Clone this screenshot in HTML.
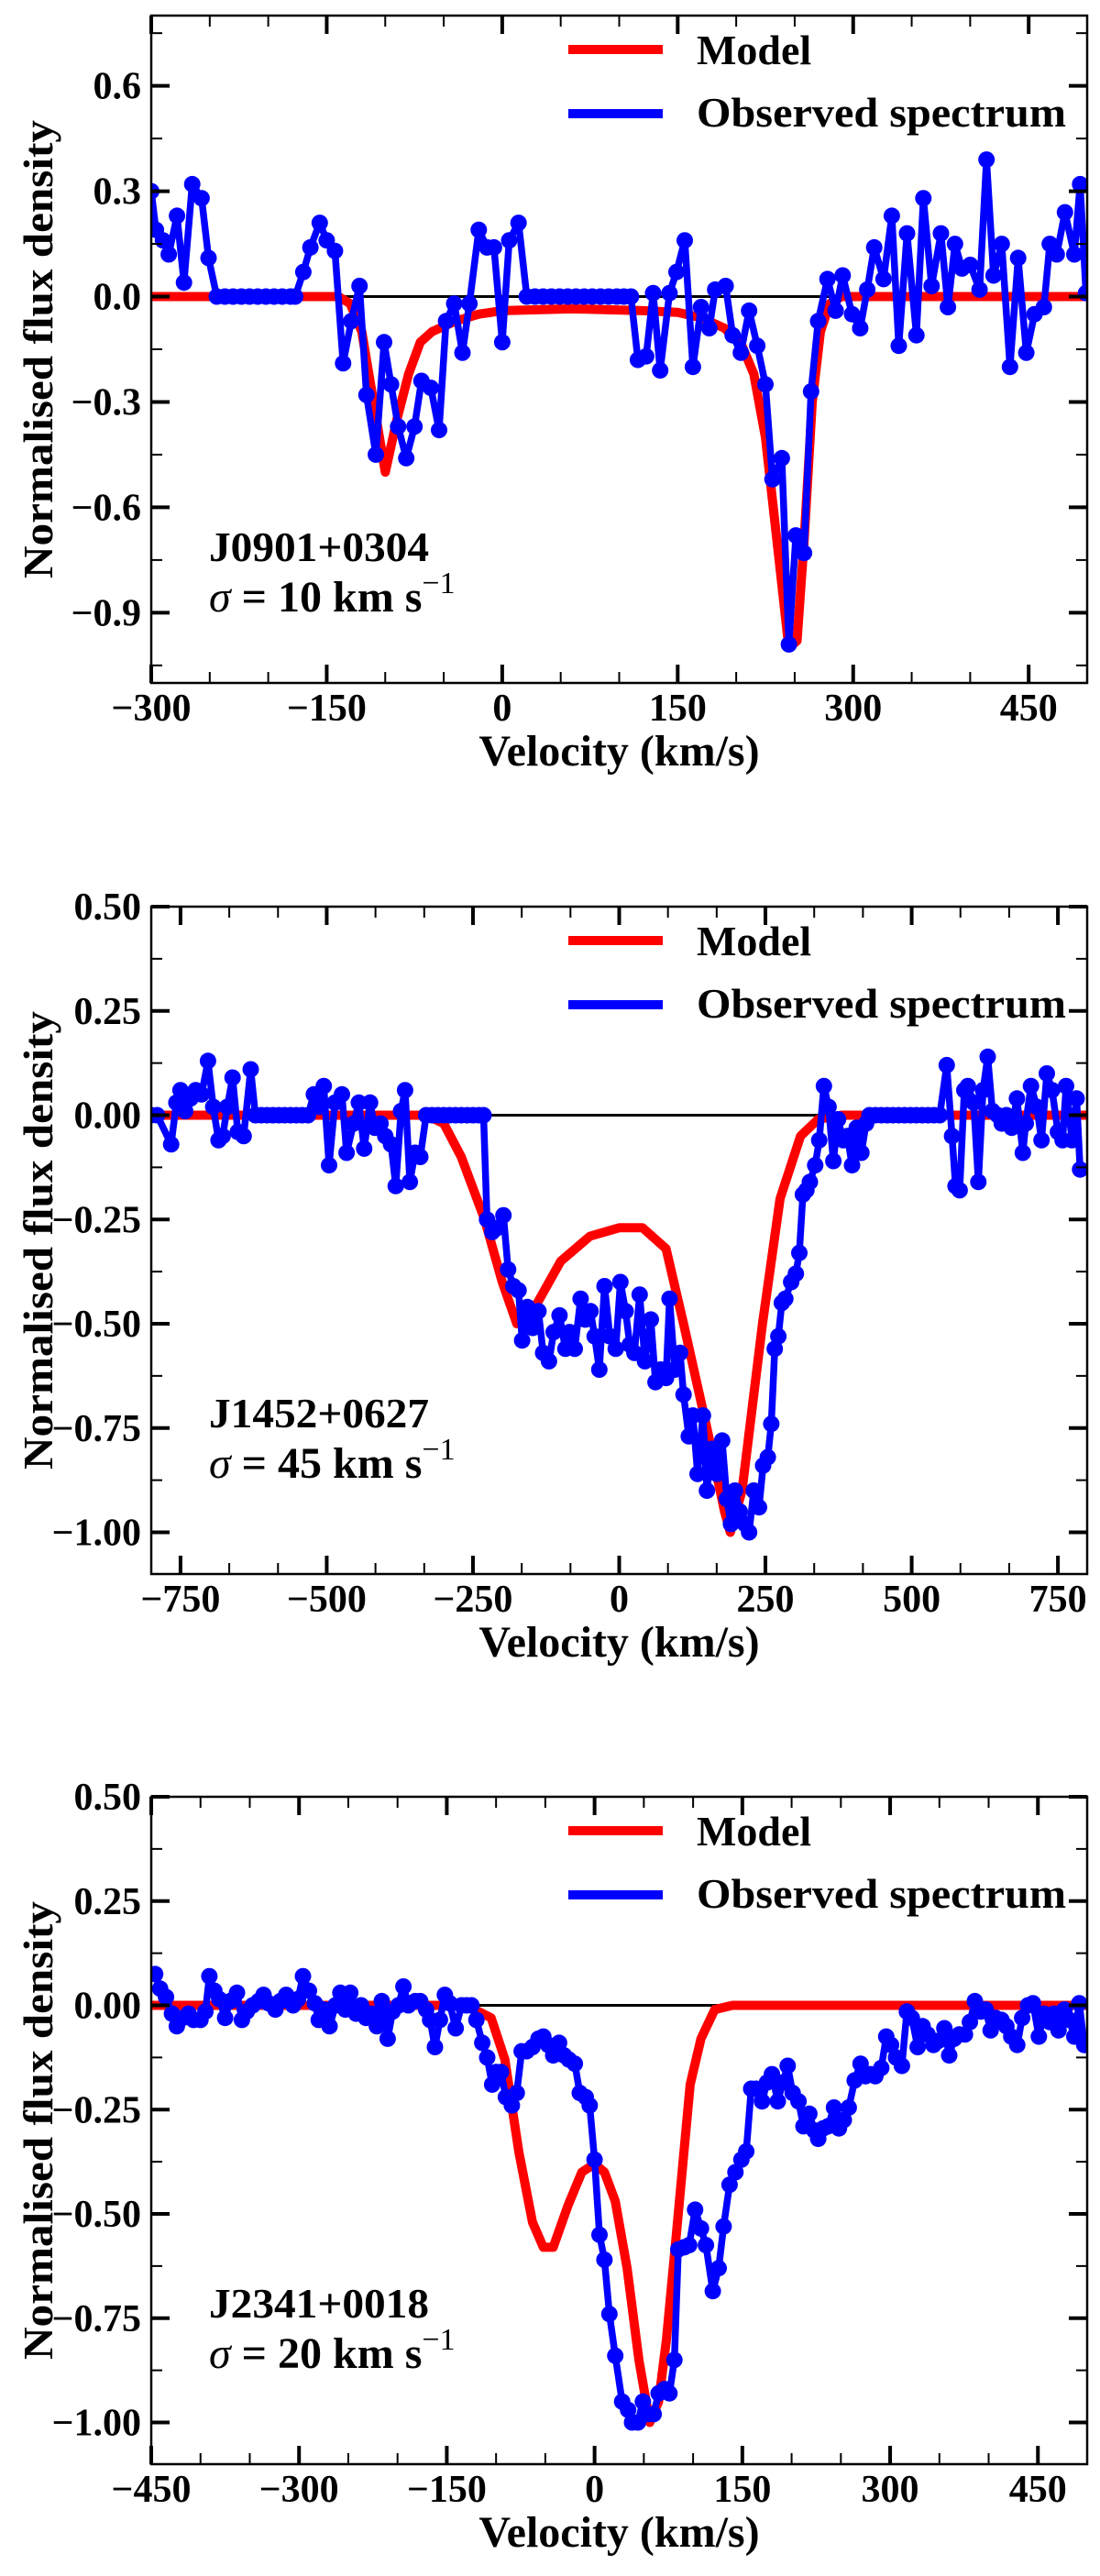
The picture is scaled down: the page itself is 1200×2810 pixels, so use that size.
<!DOCTYPE html>
<html><head><meta charset="utf-8">
<style>
html,body{margin:0;padding:0;background:#fff;}
svg{display:block;}
text{font-family:"Liberation Serif","Times New Roman",serif;font-weight:bold;fill:#000;}
</style></head>
<body>
<svg id="fig" width="1200" height="2810" viewBox="0 0 1200 2810" xmlns="http://www.w3.org/2000/svg"></svg>
<script>
// ---------- Panel 1: J0901+0304 ----------
const p1ObsVel = [-300,-296,-290,-285,-278,-272,-265,-257,-251,-244,-237,-230,-223,-216,-209,-202,-195,-188,-181,-177,-170,-164,-156,-150,-143,-136,-129,-122,-116,-108,-101,-95,-89,-82,-75,-69,-61,-54,-48,-41,-34,-28,-20,-13,-7,0,6,14,21,28,35,42,49,56,63,70,77,84,91,98,104,110,116,123,129,135,143,149,156,163,170,177,182,191,197,204,211,218,225,231,239,245,251,258,264,270,278,285,291,299,306,312,318,326,333,339,346,354,360,367,375,381,387,393,400,408,414,420,427,434,441,448,455,463,468,474,481,489,494,499];
const p1ObsFlux = [0.30,0.19,0.16,0.12,0.23,0.04,0.32,0.28,0.11,0,0,0,0,0,0,0,0,0,0,0,0.07,0.14,0.21,0.16,0.13,-0.19,-0.07,0.03,-0.28,-0.45,-0.13,-0.25,-0.37,-0.46,-0.37,-0.24,-0.26,-0.38,-0.07,-0.02,-0.16,-0.02,0.19,0.14,0.14,-0.13,0.16,0.21,0,0,0,0,0,0,0,0,0,0,0,0,0,0,-0.18,-0.17,0.01,-0.21,0.01,0.07,0.16,-0.20,-0.03,-0.09,0.02,0.03,-0.11,-0.16,-0.04,-0.14,-0.25,-0.52,-0.46,-0.99,-0.68,-0.73,-0.27,-0.07,0.05,-0.04,0.06,-0.05,-0.09,0.02,0.14,0.05,0.23,-0.14,0.18,-0.11,0.28,0.03,0.18,-0.03,0.15,0.08,0.09,0.02,0.39,0.06,0.15,-0.20,0.11,-0.16,-0.05,-0.03,0.15,0.12,0.24,0.12,0.32,0.01];
const p1ModVel = [-300,-140,-130,-120,-110,-100,-90,-80,-70,-60,-40,-20,0,60,120,150,170,190,205,215,225,235,245,252,258,265,272,280,290,500];
const p1ModFlux = [0,0,-0.02,-0.1,-0.3,-0.5,-0.35,-0.22,-0.13,-0.1,-0.07,-0.05,-0.04,-0.035,-0.04,-0.045,-0.06,-0.09,-0.14,-0.22,-0.4,-0.7,-1.0,-0.98,-0.7,-0.3,-0.1,-0.02,0,0];
const p1XTicks = [-300,-150,0,150,300,450];
const p1XLabels = ["\u2212300","\u2212150","0","150","300","450"];
const p1YTicks = [0.6,0.3,0,-0.3,-0.6,-0.9];
const p1YLabels = ["0.6","0.3","0.0","\u22120.3","\u22120.6","\u22120.9"];

// ---------- Panel 2: J1452+0627 ----------
const p2ObsVel = [-800,-790,-766,-757,-750,-742,-733,-724,-714,-703,-694,-685,-678,-670,-661,-652,-642,-630,-622,-612,-602,-592,-582,-572,-562,-552,-542,-532,-522,-514,-505,-496,-486,-474,-466,-454,-445,-436,-426,-418,-408,-400,-390,-382,-373,-366,-358,-349,-340,-330,-320,-310,-300,-290,-280,-270,-260,-250,-240,-232,-226,-217,-208,-198,-190,-181,-172,-166,-157,-148,-138,-130,-120,-112,-102,-92,-85,-76,-66,-58,-49,-42,-34,-25,-16,-6,2,11,18,26,35,44,54,62,71,80,86,95,104,110,119,126,134,143,150,158,167,176,184,191,198,206,215,222,230,239,246,254,260,266,272,278,284,294,302,308,314,320,326,335,342,350,358,366,374,383,390,398,406,414,422,428,438,448,458,468,478,488,498,508,518,528,538,548,560,569,575,582,590,596,606,614,622,630,638,647,654,662,671,680,690,695,704,714,722,731,740,750,758,764,774,782,788,798];
const p2ObsFlux = [0,0,-0.07,0.03,0.06,0.01,0.04,0.06,0.05,0.13,0.02,-0.06,-0.05,0.02,0.09,-0.04,-0.05,0.11,0,0,0,0,0,0,0,0,0,0,0.05,0.02,0.07,-0.12,0.03,0.05,-0.09,-0.02,0.03,-0.08,0.03,-0.03,-0.02,-0.05,-0.07,-0.17,0.01,0.06,-0.16,-0.09,-0.10,0,0,0,0,0,0,0,0,0,0,0,-0.25,-0.28,-0.27,-0.24,-0.37,-0.41,-0.42,-0.54,-0.46,-0.51,-0.47,-0.57,-0.59,-0.52,-0.48,-0.56,-0.52,-0.56,-0.44,-0.49,-0.47,-0.53,-0.61,-0.41,-0.53,-0.56,-0.40,-0.47,-0.55,-0.57,-0.43,-0.59,-0.49,-0.64,-0.61,-0.63,-0.44,-0.61,-0.57,-0.67,-0.77,-0.72,-0.86,-0.72,-0.90,-0.80,-0.86,-0.78,-0.92,-0.98,-0.90,-0.95,-0.98,-1.0,-0.90,-0.94,-0.84,-0.82,-0.74,-0.56,-0.53,-0.45,-0.44,-0.40,-0.38,-0.33,-0.19,-0.18,-0.16,-0.12,-0.06,0.07,0.02,-0.11,-0.01,-0.06,-0.05,-0.12,-0.03,-0.09,-0.02,0,0,0,0,0,0,0,0,0,0,0,0,0,0.12,-0.05,-0.17,-0.18,0.06,0.07,0.03,-0.16,0.06,0.14,0.01,0,-0.02,0,-0.03,0.04,-0.09,-0.02,0.07,0.02,-0.06,0.10,0.06,-0.04,-0.06,0.07,-0.06,0.04,-0.13];
const p2ModVel = [-800,-330,-300,-270,-230,-200,-175,-140,-100,-50,0,40,80,110,150,180,190,210,245,275,310,340,380,800];
const p2ModFlux = [0,0,-0.02,-0.1,-0.25,-0.4,-0.5,-0.45,-0.35,-0.29,-0.27,-0.27,-0.32,-0.5,-0.75,-0.95,-1.0,-0.9,-0.5,-0.2,-0.05,-0.01,0,0];
const p2XTicks = [-750,-500,-250,0,250,500,750];
const p2XLabels = ["\u2212750","\u2212500","\u2212250","0","250","500","750"];
const p2YTicks = [0.5,0.25,0,-0.25,-0.5,-0.75,-1.0];
const p2YLabels = ["0.50","0.25","0.00","\u22120.25","\u22120.50","\u22120.75","\u22121.00"];

// ---------- Panel 3: J2341+0018 ----------
const p3ObsVel = [-446,-441,-435,-429,-424,-418,-412,-407,-400,-395,-391,-386,-381,-375,-370,-363,-358,-353,-347,-341,-336,-331,-324,-319,-313,-306,-301,-296,-290,-284,-280,-275,-269,-263,-258,-253,-248,-242,-237,-232,-226,-221,-216,-210,-205,-199,-194,-189,-182,-177,-171,-167,-162,-157,-152,-147,-141,-135,-130,-125,-120,-114,-109,-104,-100,-95,-90,-84,-79,-74,-69,-63,-57,-52,-47,-42,-36,-31,-26,-20,-15,-9,-5,0,5,10,15,21,28,34,38,44,49,54,60,65,71,76,81,85,91,96,102,108,113,120,126,131,137,143,149,154,159,164,170,175,180,186,191,196,201,207,212,218,223,227,232,237,243,248,253,258,264,270,275,280,285,291,296,301,306,312,317,322,328,333,338,344,349,355,360,365,370,376,381,386,392,397,402,407,413,418,423,429,434,440,445,451,456,462,466,471,477,482,487,492,497];
const p3ObsFlux = [0.075,0.04,0.02,-0.02,-0.05,-0.03,-0.02,-0.035,-0.035,-0.015,0.07,0.035,0.015,-0.03,0.01,0.03,-0.035,-0.015,0,0.01,0.025,0.005,-0.01,0.01,0.025,0,0.015,0.07,0.035,0.005,-0.035,-0.01,-0.05,0,0.03,-0.01,0.03,-0.02,0,-0.03,-0.02,-0.05,0.01,-0.08,-0.015,0,0.045,0,0.01,0.01,-0.01,-0.035,-0.1,-0.035,0.025,0.005,-0.055,0,0,0,-0.035,-0.09,-0.125,-0.19,-0.16,-0.16,-0.22,-0.24,-0.21,-0.11,-0.11,-0.1,-0.08,-0.075,-0.095,-0.12,-0.09,-0.12,-0.13,-0.14,-0.21,-0.22,-0.24,-0.37,-0.55,-0.61,-0.74,-0.84,-0.95,-0.97,-1.0,-1.0,-0.95,-0.98,-0.98,-0.93,-0.92,-0.93,-0.85,-0.585,-0.58,-0.575,-0.49,-0.535,-0.575,-0.685,-0.63,-0.53,-0.43,-0.40,-0.37,-0.35,-0.20,-0.20,-0.23,-0.185,-0.165,-0.23,-0.185,-0.145,-0.21,-0.23,-0.29,-0.26,-0.30,-0.32,-0.295,-0.29,-0.245,-0.295,-0.275,-0.245,-0.18,-0.14,-0.17,-0.165,-0.17,-0.15,-0.075,-0.095,-0.125,-0.145,-0.015,-0.03,-0.1,-0.05,-0.07,-0.095,-0.085,-0.055,-0.12,-0.08,-0.07,-0.07,-0.04,0.01,-0.015,-0.01,-0.06,-0.03,-0.035,-0.05,-0.075,-0.095,-0.03,0,0.005,-0.075,-0.02,-0.04,-0.02,-0.06,-0.01,-0.035,-0.075,0.005,-0.095];
const p3ModVel = [-450,-130,-105,-91,-77,-63,-52,-42,-27,-13,0,10,21,33,45,56,65,73,83,97,108,122,140,500];
const p3ModFlux = [0,0,-0.03,-0.13,-0.35,-0.52,-0.58,-0.58,-0.48,-0.40,-0.38,-0.40,-0.47,-0.63,-0.85,-1.0,-0.95,-0.8,-0.55,-0.19,-0.08,-0.01,0,0];
const p3XTicks = [-450,-300,-150,0,150,300,450];
const p3XLabels = ["\u2212450","\u2212300","\u2212150","0","150","300","450"];
const p3YTicks = [0.5,0.25,0,-0.25,-0.5,-0.75,-1.0];
const p3YLabels = ["0.50","0.25","0.00","\u22120.25","\u22120.50","\u22120.75","\u22121.00"];

const NS = "http://www.w3.org/2000/svg";
const fig = document.getElementById('fig');
function mk(tag, attrs, parent){
  const e = document.createElementNS(NS, tag);
  for (const k in attrs) e.setAttribute(k, attrs[k]);
  (parent||fig).appendChild(e);
  return e;
}

function panel(o){
  const L=165, R=1186, T=o.top, B=o.top+728;
  const g = mk('g', {});
  
  
  const sx = v => L + (v - o.xmin)/(o.xmax - o.xmin)*(R-L);
  const sy = v => T + (o.ymax - v)/(o.ymax - o.ymin)*(B-T);
  const cid = 'clip-' + o.name;
  const cp = mk('clipPath', {id: cid}, g);
  mk('rect', {x:L, y:T, width:R-L, height:B-T}, cp);

  const zl = mk('line', {x1:L, x2:R, y1:sy(0), y2:sy(0), stroke:'#000', 'stroke-width':3}, g);
  
  

  const dg = mk('g', {'clip-path':'url(#'+cid+')'}, g);
  let d='';
  o.modVel.forEach((v,i)=>{ d += (i?'L':'M') + sx(v).toFixed(1) + ',' + sy(o.modFlux[i]).toFixed(1); });
  const mp = mk('path', {d:d, fill:'none', stroke:'#ff0000', 'stroke-width':10, 'stroke-linejoin':'round'}, dg);
  
  
  let d2='';
  o.obsVel.forEach((v,i)=>{ d2 += (i?'L':'M') + sx(v).toFixed(1) + ',' + sy(o.obsFlux[i]).toFixed(1); });
  const op = mk('path', {d:d2, fill:'none', stroke:'#0000ff', 'stroke-width':7.5, 'stroke-linejoin':'round'}, dg);
  
  
  o.obsVel.forEach((v,i)=>{
    const c = mk('circle', {cx:sx(v).toFixed(1), cy:sy(o.obsFlux[i]).toFixed(1), r:9, fill:'#0000ff'}, dg);
    
    
  });

  const fr = mk('rect', {x:L, y:T, width:R-L, height:B-T, fill:'none', stroke:'#000', 'stroke-width':2.5}, g);
  
  

  for (let v=Math.ceil(o.xmin/o.xminor)*o.xminor; v<=o.xmax+1e-6; v+=o.xminor){
    const x=sx(v);
    mk('line',{x1:x,x2:x,y1:B,y2:B-12,stroke:'#000','stroke-width':2},g);
    mk('line',{x1:x,x2:x,y1:T,y2:T+12,stroke:'#000','stroke-width':2},g);
  }
  for (let v=Math.ceil(o.ymin/o.yminor-1e-6)*o.yminor; v<=o.ymax+1e-6; v+=o.yminor){
    const y=sy(v);
    mk('line',{x1:L,x2:L+12,y1:y,y2:y,stroke:'#000','stroke-width':2},g);
    mk('line',{x1:R,x2:R-12,y1:y,y2:y,stroke:'#000','stroke-width':2},g);
  }
  o.xTicks.forEach((v,i)=>{
    const x=sx(v);
    mk('line',{x1:x,x2:x,y1:B,y2:B-20,stroke:'#000','stroke-width':4},g);
    mk('line',{x1:x,x2:x,y1:T,y2:T+20,stroke:'#000','stroke-width':4},g);
    const t = mk('text',{x:x, y:B+41, 'text-anchor':'middle', 'font-size':42},g);
    t.textContent = o.xLabels[i];
    
    
  });
  o.yTicks.forEach((v,i)=>{
    const y=sy(v);
    mk('line',{x1:L,x2:L+20,y1:y,y2:y,stroke:'#000','stroke-width':4},g);
    mk('line',{x1:R,x2:R-20,y1:y,y2:y,stroke:'#000','stroke-width':4},g);
    const t = mk('text',{x:154, y:y+14, 'text-anchor':'end', 'font-size':42},g);
    t.textContent = o.yLabels[i];
    
    
  });

  const xt = mk('text',{x:(L+R)/2, y:B+90, 'text-anchor':'middle', 'font-size':48},g);
  xt.textContent = 'Velocity (km/s)';
  
  
  const yc = (T+B)/2;
  const yt = mk('text',{x:0, y:0, 'text-anchor':'middle', 'font-size':46, textLength:500, lengthAdjust:'spacingAndGlyphs', transform:'translate(57,'+yc+') rotate(-90)'},g);
  yt.textContent = 'Normalised flux density';
  
  

  const lg = mk('g',{},g);
  
  
  mk('line',{x1:620,x2:723,y1:T+37,y2:T+37,stroke:'#ff0000','stroke-width':10},lg);
  const lt1 = mk('text',{x:760,y:T+53,'font-size':46},lg);
  lt1.textContent='Model';
  
  
  mk('line',{x1:620,x2:723,y1:T+107,y2:T+107,stroke:'#0000ff','stroke-width':10},lg);
  const lt2 = mk('text',{x:760,y:T+121,'font-size':46, textLength:403, lengthAdjust:'spacingAndGlyphs'},lg);
  lt2.textContent='Observed spectrum';
  
  

  const a1 = mk('text',{x:228, y:T+o.annY, 'font-size':46, textLength:240, lengthAdjust:'spacingAndGlyphs'},g);
  a1.textContent = o.label;
  
  
  const a2 = mk('text',{x:228, y:T+o.annY+55, 'font-size':48},g);
  
  
  const s1 = mk('tspan',{'font-style':'italic','font-weight':'normal'},a2); s1.textContent='\u03c3';
  const s2 = mk('tspan',{},a2); s2.textContent=' = '+o.sigma+' km s';
  const s3 = mk('tspan',{dy:-20,'font-size':34,'font-weight':'normal'},a2); s3.textContent='\u22121';
}

panel({name:'panel-j0901', top:17, xmin:-300, xmax:500, ymin:-1.1, ymax:0.8, xminor:50, yminor:0.15,
  obsVel:p1ObsVel, obsFlux:p1ObsFlux, modVel:p1ModVel, modFlux:p1ModFlux,
  xTicks:p1XTicks, xLabels:p1XLabels, yTicks:p1YTicks, yLabels:p1YLabels,
  label:'J0901+0304', sigma:'10', annY:595});
panel({name:'panel-j1452', top:989, xmin:-800, xmax:800, ymin:-1.1, ymax:0.5, xminor:250/3, yminor:0.125,
  obsVel:p2ObsVel, obsFlux:p2ObsFlux, modVel:p2ModVel, modFlux:p2ModFlux,
  xTicks:p2XTicks, xLabels:p2XLabels, yTicks:p2YTicks, yLabels:p2YLabels,
  label:'J1452+0627', sigma:'45', annY:568});
panel({name:'panel-j2341', top:1960, xmin:-450, xmax:500, ymin:-1.1, ymax:0.5, xminor:50, yminor:0.125,
  obsVel:p3ObsVel, obsFlux:p3ObsFlux, modVel:p3ModVel, modFlux:p3ModFlux,
  xTicks:p3XTicks, xLabels:p3XLabels, yTicks:p3YTicks, yLabels:p3YLabels,
  label:'J2341+0018', sigma:'20', annY:568});
</script>
</body></html>
